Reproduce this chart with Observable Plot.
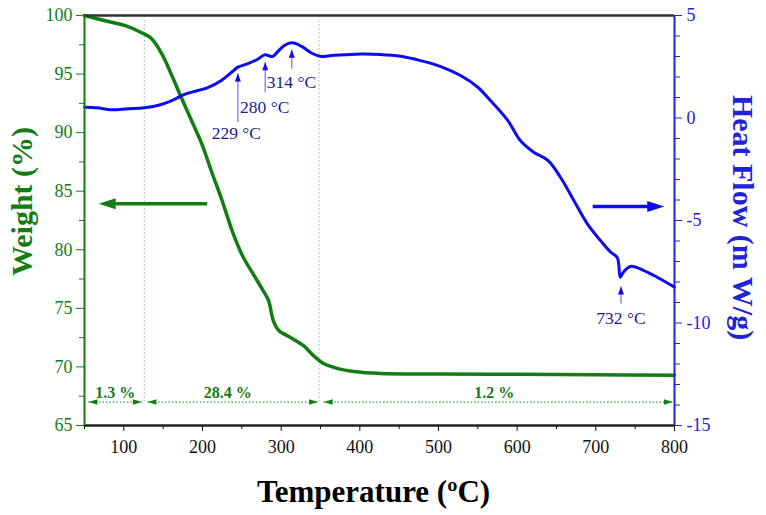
<!DOCTYPE html>
<html><head><meta charset="utf-8">
<script src="https://cdn.jsdelivr.net/npm/d3@7"></script>
<script src="https://cdn.jsdelivr.net/npm/@observablehq/plot@0.6"></script>
<style>body{margin:0;background:#fff;} #chart svg{display:block;}</style>
</head><body><div id="chart"></div>
<script>
// ---- Weight (TGA) series ----
const tempW  = [50, 75, 101, 122, 135, 148, 161, 173, 186, 199, 211, 224, 239, 252, 264, 277, 284, 290, 297, 312, 328, 341, 354, 372, 392, 426, 500, 600, 700, 800];
const weight = [100, 99.57, 99.15, 98.55, 98.04, 96.76, 94.88, 93.0, 91.04, 89.07, 86.77, 84.38, 81.39, 79.34, 77.98, 76.52, 75.67, 73.96, 73.11, 72.51, 71.83, 70.97, 70.29, 69.86, 69.61, 69.44, 69.40, 69.37, 69.33, 69.30];

// ---- Heat flow (DSC) series ----
const tempH    = [50, 66, 84, 105, 126, 143, 161, 177, 194, 206, 224, 237, 245, 257, 269, 279, 289, 295, 304, 314, 326, 339, 351, 364, 381, 401, 426, 452, 477, 503, 528, 550, 566, 588, 604, 621, 639, 655, 672, 689, 706, 719, 727, 729, 731, 735, 744, 761, 778, 800];
const heatFlow = [0.53, 0.50, 0.40, 0.45, 0.50, 0.61, 0.85, 1.15, 1.34, 1.47, 1.83, 2.23, 2.48, 2.64, 2.84, 3.08, 3.00, 3.21, 3.54, 3.67, 3.49, 3.16, 3.00, 3.05, 3.08, 3.12, 3.10, 3.01, 2.80, 2.51, 2.07, 1.50, 0.85, -0.12, -1.10, -1.67, -2.07, -2.89, -4.02, -5.15, -5.98, -6.55, -6.79, -7.10, -7.77, -7.52, -7.24, -7.44, -7.77, -8.25];

// ---- Ticks ----
const xTicks  = [100, 200, 300, 400, 500, 600, 700, 800];
const xMinor  = [50, 150, 250, 350, 450, 550, 650, 750];
const wTicks  = [65, 70, 75, 80, 85, 90, 95, 100];
const wMinor  = [67.5, 72.5, 77.5, 82.5, 87.5, 92.5, 97.5];
const hfTicks = [-15, -10, -5, 0, 5];
const hfMinor = [-14, -13, -12, -11, -9, -8, -7, -6, -4, -3, -2, -1, 1, 2, 3, 4];

// ---- Mass-loss steps ----
const stepDividers = [126, 348];
const stepLevel    = 67;
const stepStart    = [55, 130, 354];
const stepEnd      = [123, 347, 798];
const stepLabels   = ["1.3 %", "28.4 %", "1.2 %"];
const stepLabelT   = [89, 232, 571];
const stepLabelW   = 67.8;

// ---- Peak annotations (heat flow units) ----
const peakT      = [245, 279.7, 313.5, 732];
const peakFrom   = [-0.2, 1.26, 2.4, -9.05];
const peakTo     = [2.17, 2.72, 3.33, -8.22];
const peakLabels = ["229 °C", "280 °C", "314 °C", "732 °C"];
const peakLabelT = [243, 279, 313, 732];
const peakLabelHF= [-0.76, 0.51, 1.73, -9.78];

// ---- Axis-indicator arrows ----
const weightArrow = {from: 206, to: 68, level: 83.93};
const heatArrow   = {from: 696, to: 787, level: -4.32};

// ---- helpers ----
const toW = hf => 65 + (hf + 15) * 35 / 20;
const fromW = w => String(Math.round((w - 65) * 20 / 35 - 15));
const green = "#137d13", blue = "#0c0cf2", navy = "#1b1b8e", axisBlue = "#2323d6";
function head(L, Wd) {
  return { draw(ctx) { ctx.moveTo(0, 0); ctx.lineTo(-L, -Wd); ctx.lineTo(-L, Wd); ctx.closePath(); } };
}

const wData = tempW.map((t, i) => ({t, v: weight[i]}));
const hData = tempH.map((t, i) => ({t, v: toW(heatFlow[i])}));
const steps = stepStart.map((s, i) => ({a: s, b: stepEnd[i], label: stepLabels[i], lt: stepLabelT[i]}));
const peaks = peakT.map((t, i) => ({t, y1: toW(peakFrom[i]), y2: toW(peakTo[i]), label: peakLabels[i], lt: peakLabelT[i], ly: toW(peakLabelHF[i])}));

const plot = Plot.plot({
  width: 766, height: 515,
  marginLeft: 84, marginRight: 92, marginTop: 15, marginBottom: 90,
  x: {domain: [50, 800]},
  y: {domain: [65, 100]},
  style: {fontFamily: "'Liberation Serif', 'Times New Roman', serif", fontSize: "18px", background: "white", overflow: "visible"},
  marks: [
    // dotted step dividers
    Plot.ruleX(stepDividers, {y1: stepLevel, y2: 100, stroke: "#8fb8a0", strokeDasharray: "1.5,2.5", strokeWidth: 1}),
    // mass-loss step arrows
    Plot.link(steps, {x1: "a", x2: "b", y1: stepLevel, y2: stepLevel, stroke: green, strokeDasharray: "1.5,2", strokeWidth: 1}),
    Plot.dot(steps, {x: "a", y: stepLevel, symbol: head(9, 2.8), rotate: 180, fill: green, stroke: "none"}),
    Plot.dot(steps, {x: "b", y: stepLevel, symbol: head(9, 2.8), rotate: 0, fill: green, stroke: "none"}),
    Plot.text(steps, {x: "lt", y: stepLabelW, text: "label", fill: green, fontSize: 16, fontWeight: "bold"}),
    // curves
    Plot.line(wData, {x: "t", y: "v", stroke: green, strokeWidth: 3.5, curve: "catmull-rom"}),
    Plot.line(hData, {x: "t", y: "v", stroke: blue, strokeWidth: 3, curve: "catmull-rom"}),
    // indicator arrows
    Plot.link([weightArrow], {x1: "from", x2: d => d.to + 12, y1: "level", y2: "level", stroke: green, strokeWidth: 3.5}),
    Plot.dot([weightArrow], {x: "to", y: "level", symbol: head(17, 5.5), rotate: 180, fill: green, stroke: "none"}),
    Plot.link([heatArrow], {x1: "from", x2: d => d.to - 12, y1: d => toW(d.level), y2: d => toW(d.level), stroke: blue, strokeWidth: 3.5}),
    Plot.dot([heatArrow], {x: "to", y: d => toW(d.level), symbol: head(17, 5.5), rotate: 0, fill: blue, stroke: "none"}),
    // peak annotations
    Plot.link(peaks, {x1: "t", x2: "t", y1: "y1", y2: "y2", stroke: "#7a7af0", strokeWidth: 1.3}),
    Plot.dot(peaks, {x: "t", y: "y2", symbol: head(8, 3), rotate: -90, fill: blue, stroke: "none"}),
    Plot.text(peaks, {x: "lt", y: "ly", text: "label", fill: navy, fontSize: 17.5}),
    // frame lines
    Plot.ruleY([100], {stroke: "#333", strokeWidth: 2.5}),
    Plot.ruleY([65], {stroke: "#222", strokeWidth: 2.5}),
    Plot.ruleX([50], {stroke: green, strokeWidth: 2}),
    Plot.ruleX([800], {stroke: axisBlue, strokeWidth: 2}),
    // axes
    Plot.axisX(xTicks, {anchor: "bottom", tickSize: 6, tickPadding: 9, color: "#111", label: null, fontSize: 18}),
    Plot.axisX(xMinor, {anchor: "bottom", tickSize: 4, tickFormat: () => "", color: "#111", label: null}),
    Plot.axisY(wTicks, {anchor: "left", tickSize: 8, tickPadding: 4, color: green, label: null, fontSize: 18}),
    Plot.axisY(wMinor, {anchor: "left", tickSize: 5, tickFormat: () => "", color: green, label: null}),
    Plot.axisY(hfTicks.map(toW), {anchor: "right", tickSize: 7, tickPadding: 5, tickFormat: fromW, color: axisBlue, label: null, fontSize: 18}),
    Plot.axisY(hfMinor.map(toW), {anchor: "right", tickSize: 5, tickFormat: () => "", color: axisBlue, label: null}),
    // axis titles
    Plot.text(["Temperature (ºC)"], {frameAnchor: "bottom", textAnchor: "middle", lineAnchor: "middle", dx: -6, dy: 67, fontSize: 31, fontWeight: "bold", fill: "#000"}),
    Plot.text(["Weight (%)"], {frameAnchor: "left", textAnchor: "middle", lineAnchor: "middle", dx: -62, dy: -19, rotate: -90, fontSize: 30, fontWeight: "bold", fill: green}),
    Plot.text(["Heat Flow (m W/g)"], {frameAnchor: "right", textAnchor: "middle", lineAnchor: "middle", dx: 68, dy: -3, rotate: 90, fontSize: 30, fontWeight: "bold", fill: axisBlue})
  ]
});
document.getElementById("chart").appendChild(plot);
</script>
</body></html>
